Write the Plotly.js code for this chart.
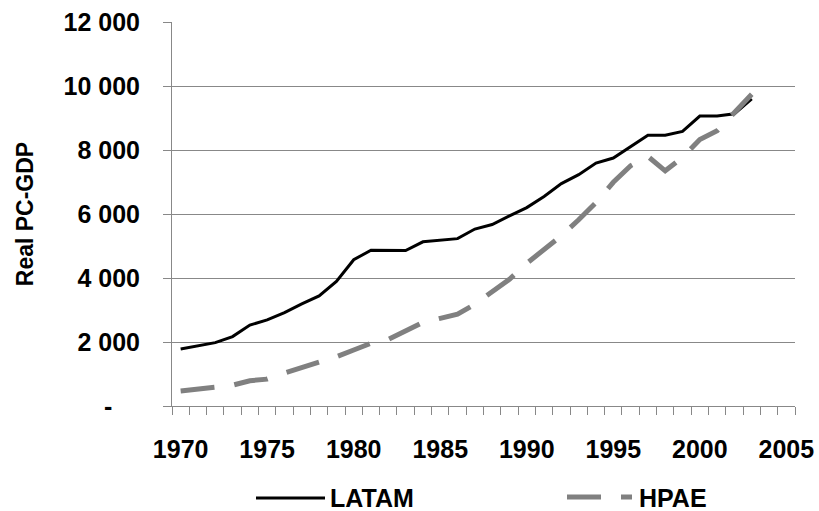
<!DOCTYPE html>
<html>
<head>
<meta charset="utf-8">
<script src="https://cdn.plot.ly/plotly-3.0.1.min.js"></script>
<style>html,body{margin:0;padding:0;background:#fff;}#chart{width:819px;height:511px;}</style>
</head>
<body>
<div id="chart"></div>
<script>
var years = [];
for (var yr = 1970; yr <= 2003; yr++) years.push(yr);

var latam = [1780, 1870, 1980, 2170, 2530, 2690, 2920, 3190, 3440, 3890,
             4570, 4870, 4870, 4860, 5130, 5170, 5230, 5530, 5670, 5940,
             6200, 6550, 6950, 7230, 7590, 7750, 8110, 8460, 8460, 8580,
             9060, 9060, 9130, 9600];

var hpae = [470, 520, 570, 650, 790, 840, 1030, 1200, 1360, 1540,
            1750, 1960, 2080, 2340, 2610, 2740, 2870, 3180, 3590, 3960,
            4460, 4880, 5320, 5820, 6360, 6990, 7510, 7800, 7350, 7770,
            8330, 8600, 9160, 9740];

var xTickVals = [1970, 1975, 1980, 1985, 1990, 1995, 2000, 2005];
var xTickText = ['1970', '1975', '1980', '1985', '1990', '1995', '2000', '2005'];
var yTickVals = [0, 2000, 4000, 6000, 8000, 10000, 12000];
var yTickText = ['-\u00a0\u00a0\u00a0\u00a0', '2 000', '4 000', '6 000', '8 000', '10 000', '12 000'];

var seriesNames = ['LATAM', 'HPAE'];

var FONT = 'Liberation Sans, Arial, sans-serif';
var GRID = '#888888';
var FS = 25;

// plot area in pixels
var L = 172, R = 795, T = 22, B = 406;
function px(x) { return (x - L) / (R - L); }
function py(y) { return (B - y) / (B - T); }

var traces = [
  {x: years, y: latam, name: seriesNames[0], type: 'scatter', mode: 'lines',
   line: {color: '#000000', width: 3}},
  {x: years, y: hpae, name: seriesNames[1], type: 'scatter', mode: 'lines',
   line: {color: '#808080', width: 5, dash: '34px,20px'}}
];

var layout = {
  width: 819, height: 511,
  margin: {l: L, r: 819 - R, t: T, b: 511 - B, pad: 0},
  paper_bgcolor: '#ffffff', plot_bgcolor: '#ffffff',
  showlegend: false,
  font: {family: FONT, size: FS, color: '#000000', weight: 'bold'},
  xaxis: {
    type: 'linear', range: [1969.5, 2005.5], autorange: false,
    tickmode: 'array', tickvals: xTickVals, ticktext: xTickText,
    ticks: '', showgrid: false, zeroline: false,
    showline: true, linecolor: GRID, linewidth: 1,
    tickfont: {family: FONT, size: FS, color: '#000', weight: 'bold'},
    ticklabelstandoff: 21,
    minor: {tick0: 1969.5, dtick: 1, ticks: 'outside', ticklen: 8, tickcolor: GRID, tickwidth: 1, showgrid: false}
  },
  yaxis: {
    range: [0, 12000], autorange: false,
    tickmode: 'array', tickvals: yTickVals, ticktext: yTickText,
    ticks: 'outside', ticklen: 8, tickcolor: GRID, tickwidth: 1,
    showgrid: true, gridcolor: GRID, gridwidth: 1, zeroline: false,
    showline: true, linecolor: GRID, linewidth: 1,
    tickfont: {family: FONT, size: FS, color: '#000', weight: 'bold'},
    ticklabelstandoff: 18,
    title: {text: 'Real PC-GDP', font: {family: FONT, size: 23, color: '#000', weight: 'bold'}, standoff: 23},
    automargin: false
  },
  shapes: [
    {type: 'line', xref: 'paper', yref: 'paper', x0: px(256), x1: px(325), y0: py(498), y1: py(498),
     line: {color: '#000000', width: 3}},
    {type: 'line', xref: 'paper', yref: 'paper', x0: px(567), x1: px(632), y0: py(497), y1: py(497),
     line: {color: '#808080', width: 5, dash: '34px,20px'}}
  ],
  annotations: [
    {xref: 'paper', yref: 'paper', x: px(328), y: py(498), xanchor: 'left', yanchor: 'middle',
     text: seriesNames[0], showarrow: false, font: {family: FONT, size: FS, color: '#000', weight: 'bold'}},
    {xref: 'paper', yref: 'paper', x: px(637), y: py(498), xanchor: 'left', yanchor: 'middle',
     text: seriesNames[1], showarrow: false, font: {family: FONT, size: FS, color: '#000', weight: 'bold'}}
  ]
};

Plotly.newPlot('chart', traces, layout, {staticPlot: true, displayModeBar: false});
</script>
</body>
</html>
